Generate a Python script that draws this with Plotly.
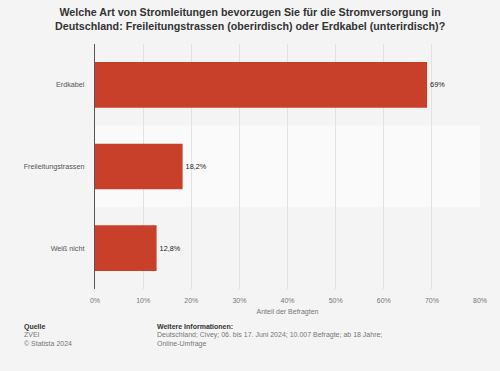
import plotly.graph_objects as go

categories = ["Erdkabel", "Freileitungstrassen", "Weiß nicht"]
values = [69, 18.2, 12.8]
value_labels = ["69%", "18,2%", "12,8%"]
tick_vals = [0, 10, 20, 30, 40, 50, 60, 70, 80]
tick_text = ["0%", "10%", "20%", "30%", "40%", "50%", "60%", "70%", "80%"]

title_text = ("Welche Art von Stromleitungen bevorzugen Sie für die Stromversorgung in<br>"
              "Deutschland: Freileitungstrassen (oberirdisch) oder Erdkabel (unterirdisch)?")

fig = go.Figure()
fig.add_trace(go.Bar(
    x=values, y=categories, orientation="h",
    marker=dict(color="#c8402a", line=dict(width=0)),
    width=0.56,
    text=value_labels, textposition="outside",
    textfont=dict(family="Liberation Sans, Arial, sans-serif", size=7.3, color="#222222"),
    cliponaxis=False,
    hoverinfo="skip",
))

fig.add_shape(type="rect", xref="paper", yref="y", x0=0, x1=1.0, y0=0.5, y1=1.5,
              fillcolor="#fafafa", line=dict(width=0), layer="below")

fig.update_layout(
    width=500, height=371,
    paper_bgcolor="#f4f4f4", plot_bgcolor="#f4f4f4",
    margin=dict(l=95, r=20, t=44, b=82),
    showlegend=False,
    font=dict(family="Liberation Sans, Arial, sans-serif", color="#666666"),
    bargap=0.44,
)
fig.add_annotation(xref="paper", yref="paper", x=0.4026, y=1.165, xanchor="center", yanchor="top",
                   text="<b>" + title_text + "</b>", showarrow=False, align="center",
                   font=dict(size=10.7, color="#333333"))
fig.update_xaxes(range=[0, 80], tickvals=tick_vals, ticktext=tick_text,
                 showgrid=True, gridcolor="#e2e2e2", gridwidth=1, zeroline=False,
                 showline=False, ticks="", ticklabelstandoff=6,
                 tickfont=dict(size=7, color="#777777"),
                 title=dict(text="Anteil der Befragten", font=dict(size=7, color="#777777"), standoff=6),
                 fixedrange=True)
fig.update_yaxes(autorange="reversed", showgrid=False, showline=True, linecolor="#555555", linewidth=1.2,
                 ticks="", ticklabelstandoff=8, tickfont=dict(size=7.2, color="#555555"), fixedrange=True)

# footer
fig.add_annotation(xref="paper", yref="paper", x=-0.19, y=-0.13, xanchor="left", yanchor="top",
                   text="<b>Quelle</b>", showarrow=False, font=dict(size=7, color="#333333"))
fig.add_annotation(xref="paper", yref="paper", x=-0.19, y=-0.165, xanchor="left", yanchor="top",
                   text="ZVEI<br>© Statista 2024", showarrow=False, align="left",
                   font=dict(size=7, color="#777777"))
fig.add_annotation(xref="paper", yref="paper", x=0.156, y=-0.13, xanchor="left", yanchor="top",
                   text="<b>Weitere Informationen:</b>", showarrow=False, font=dict(size=7, color="#333333"))
fig.add_annotation(xref="paper", yref="paper", x=0.156, y=-0.165, xanchor="left", yanchor="top",
                   text="Deutschland; Civey; 06. bis 17. Juni 2024; 10.007 Befragte; ab 18 Jahre;<br>Online-Umfrage",
                   showarrow=False, align="left", font=dict(size=7, color="#777777"))

fig.write_html("out.html", config={"displayModeBar": False},
               post_script="document.body.style.margin='0';document.body.style.overflow='hidden';")
